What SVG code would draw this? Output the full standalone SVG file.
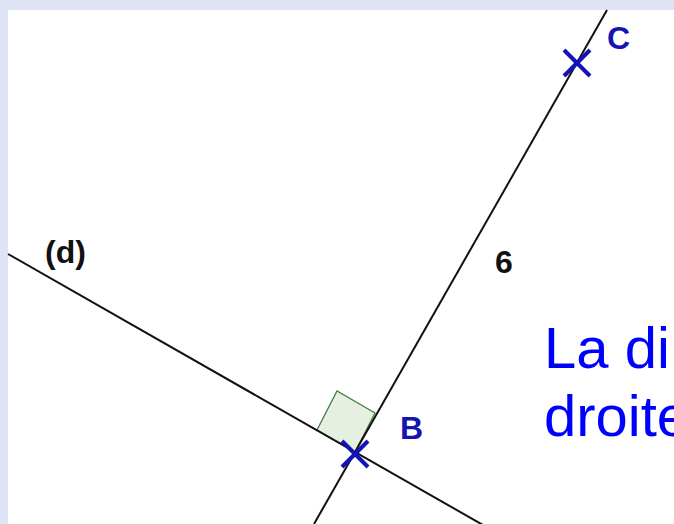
<svg xmlns="http://www.w3.org/2000/svg" width="674" height="524" viewBox="0 0 674 524">
  <style>
    .ln { stroke: #111; stroke-width: 2; fill: none; }
    .cross { stroke: #1414b4; stroke-width: 4; stroke-linecap: butt; }
    .lbl { font-family: "Liberation Sans", Arial, sans-serif; font-size: 32px; font-weight: bold; }
    .pt { fill: #1414b4; }
    .blk { fill: #111; }
    .big { font-family: "Liberation Sans", Arial, sans-serif; font-size: 58px; fill: #0000ff; }
  </style>
  <rect x="0" y="0" width="674" height="524" fill="#dee3f5"/>
  <rect x="8" y="10" width="666" height="514" fill="#ffffff"/>

  <g id="right-angle">
    <polygon points="355,452 375,413 337,391 317,430" fill="#e6f0e0" stroke="#4b7d4b" stroke-width="1.3"/>
  </g>

  <g id="connectors">
    <line class="ln" x1="8" y1="254" x2="490" y2="529"/>
    <line class="ln" x1="607" y1="10" x2="314" y2="524"/>
  </g>

  <g id="line-d">
    <text class="lbl blk" x="45" y="263">(d)</text>
  </g>

  <g id="length-BC">
    <text class="lbl blk" x="495" y="273">6</text>
  </g>

  <g id="point-C">
    <line class="cross" x1="564" y1="50" x2="590" y2="76"/>
    <line class="cross" x1="564" y1="76" x2="590" y2="50"/>
    <text class="lbl pt" x="607" y="49">C</text>
  </g>

  <g id="point-B">
    <line class="cross" x1="342" y1="441" x2="368" y2="467"/>
    <line class="cross" x1="342" y1="467" x2="368" y2="441"/>
    <text class="lbl pt" x="400" y="439">B</text>
  </g>

  <g id="caption">
    <text class="big" x="544" y="368">La di</text>
    <text class="big" x="544" y="436">droite</text>
  </g>
</svg>
